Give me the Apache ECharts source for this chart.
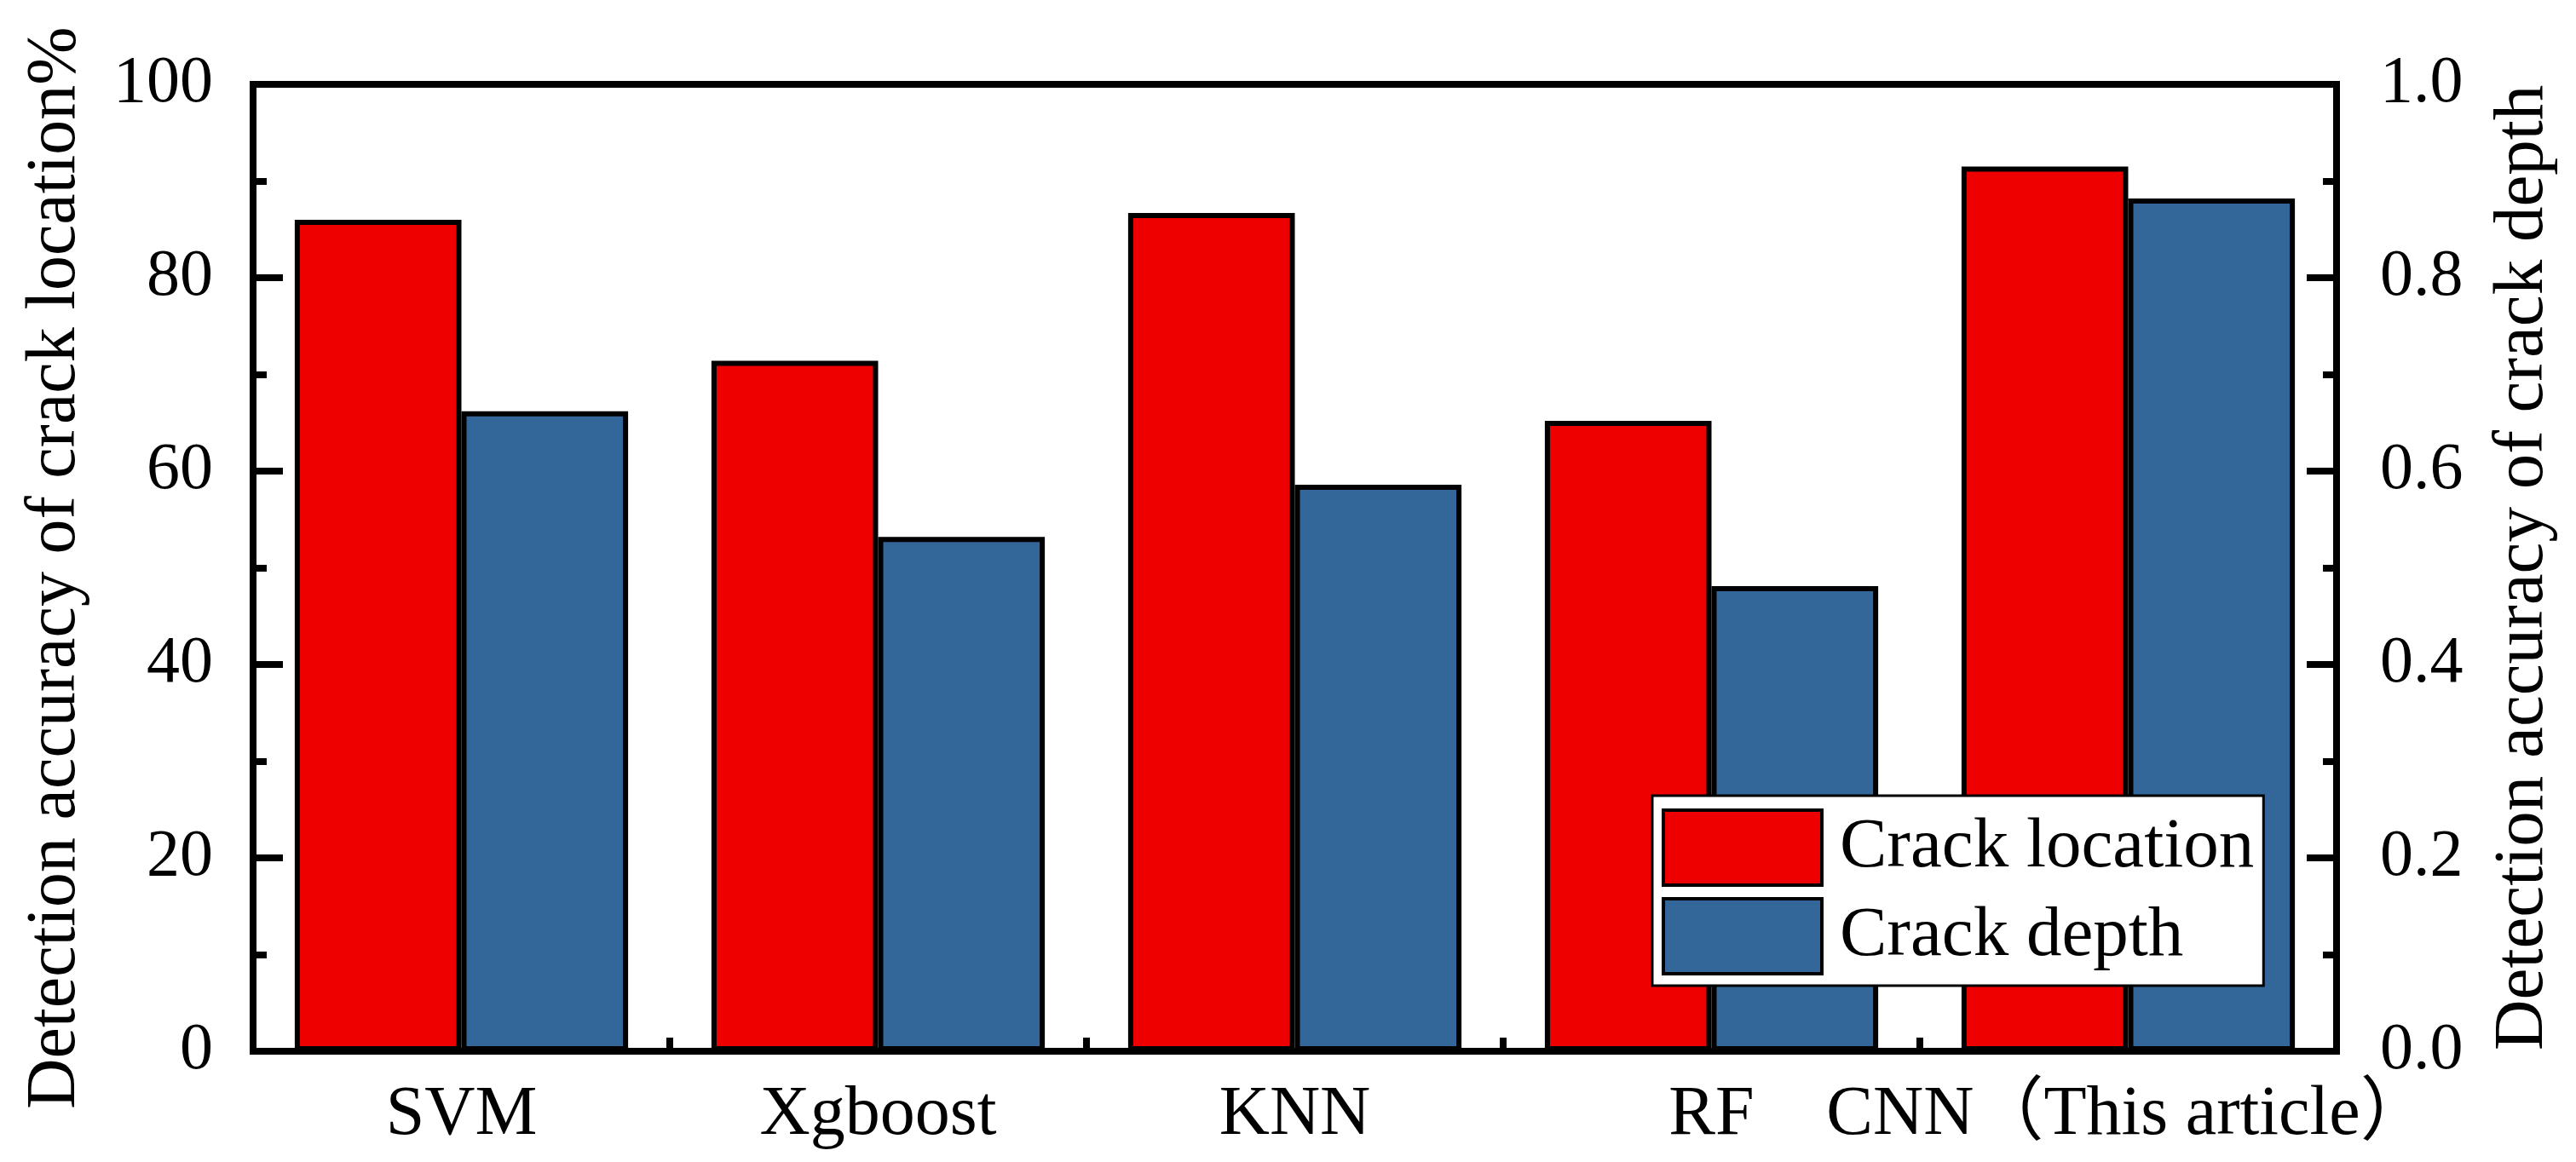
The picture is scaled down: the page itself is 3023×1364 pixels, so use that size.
<!DOCTYPE html>
<html>
<head>
<meta charset="utf-8">
<script src="https://cdn.jsdelivr.net/npm/echarts@6/dist/echarts.min.js"></script>
<style>
html,body{margin:0;padding:0;background:#fff;}
#chart{width:3023px;height:1364px;}
</style>
</head>
<body>
<div id="chart"></div>
<script>
var categories = ['SVM', 'Xgboost', 'KNN', 'RF', 'CNN（This article）'];
var crackLocation = [86.0, 71.4, 86.7, 65.2, 91.5];
var crackDepth = [0.662, 0.532, 0.586, 0.481, 0.882];
var seriesNames = ['Crack location', 'Crack depth'];
var leftAxisName = 'Detection accuracy of crack location%';
var rightAxisName = 'Detection accuracy of crack depth';

var FONT = "'Liberation Serif', 'Noto Sans CJK SC', serif";
var chart = echarts.init(document.getElementById('chart'), null, {renderer: 'canvas'});
var tickLine = {color: '#000', width: 8};
chart.setOption({
  backgroundColor: '#fff',
  animation: false,
  textStyle: {fontFamily: FONT, color: '#000'},
  grid: {left: 297, right: 281, top: 99, bottom: 130, show: true, borderColor: '#000', borderWidth: 8, backgroundColor: 'transparent'},
  legend: {
    orient: 'vertical', left: 1939, top: 934,
    padding: [15, 11, 12, 11],
    backgroundColor: '#fff', borderColor: '#000', borderWidth: 3,
    itemWidth: 186, itemHeight: 88, itemGap: 12,
    icon: 'rect',
    itemStyle: {borderColor: '#000', borderWidth: 4},
    textStyle: {fontFamily: FONT, fontSize: 83, color: '#000', padding: [0, 0, 0, 16]},
    data: seriesNames
  },
  xAxis: {
    type: 'category', data: categories,
    axisLine: {show: true, lineStyle: tickLine},
    axisTick: {show: true, inside: true, length: 16, lineStyle: tickLine, interval: 0},
    axisLabel: {fontFamily: FONT, fontSize: 82, color: '#000', margin: 34, interval: 0},
    splitLine: {show: false}
  },
  yAxis: [{
    type: 'value', min: 0, max: 100, interval: 20, position: 'left',
    name: leftAxisName, nameLocation: 'middle', nameRotate: 90, nameGap: 191,
    nameTextStyle: {fontFamily: FONT, fontSize: 82, color: '#000'},
    axisLine: {show: true, lineStyle: tickLine},
    axisTick: {show: true, inside: true, length: 35, lineStyle: tickLine},
    minorTick: {show: true, splitNumber: 2, length: 16, lineStyle: tickLine},
    axisLabel: {fontFamily: FONT, fontSize: 78, color: '#000', margin: 47},
    splitLine: {show: false}
  }, {
    type: 'value', min: 0, max: 1, interval: 0.2, position: 'right',
    name: rightAxisName, nameLocation: 'middle', nameRotate: 90, nameGap: 178,
    nameTextStyle: {fontFamily: FONT, fontSize: 83, color: '#000'},
    axisLine: {show: true, lineStyle: tickLine},
    axisTick: {show: true, inside: true, length: 35, lineStyle: tickLine},
    minorTick: {show: true, splitNumber: 2, length: 16, lineStyle: tickLine},
    axisLabel: {fontFamily: FONT, fontSize: 78, color: '#000', margin: 51,
      formatter: function (v) { return v.toFixed(1); }},
    splitLine: {show: false}
  }],
  series: [{
    name: seriesNames[0], type: 'bar', yAxisIndex: 0, data: crackLocation,
    barGap: '0%', barCategoryGap: '20%',
    itemStyle: {color: '#EE0000', borderColor: '#000', borderWidth: 6}
  }, {
    name: seriesNames[1], type: 'bar', yAxisIndex: 1, data: crackDepth,
    barGap: '0%', barCategoryGap: '20%',
    itemStyle: {color: '#336699', borderColor: '#000', borderWidth: 6}
  }]
});
</script>
</body>
</html>
